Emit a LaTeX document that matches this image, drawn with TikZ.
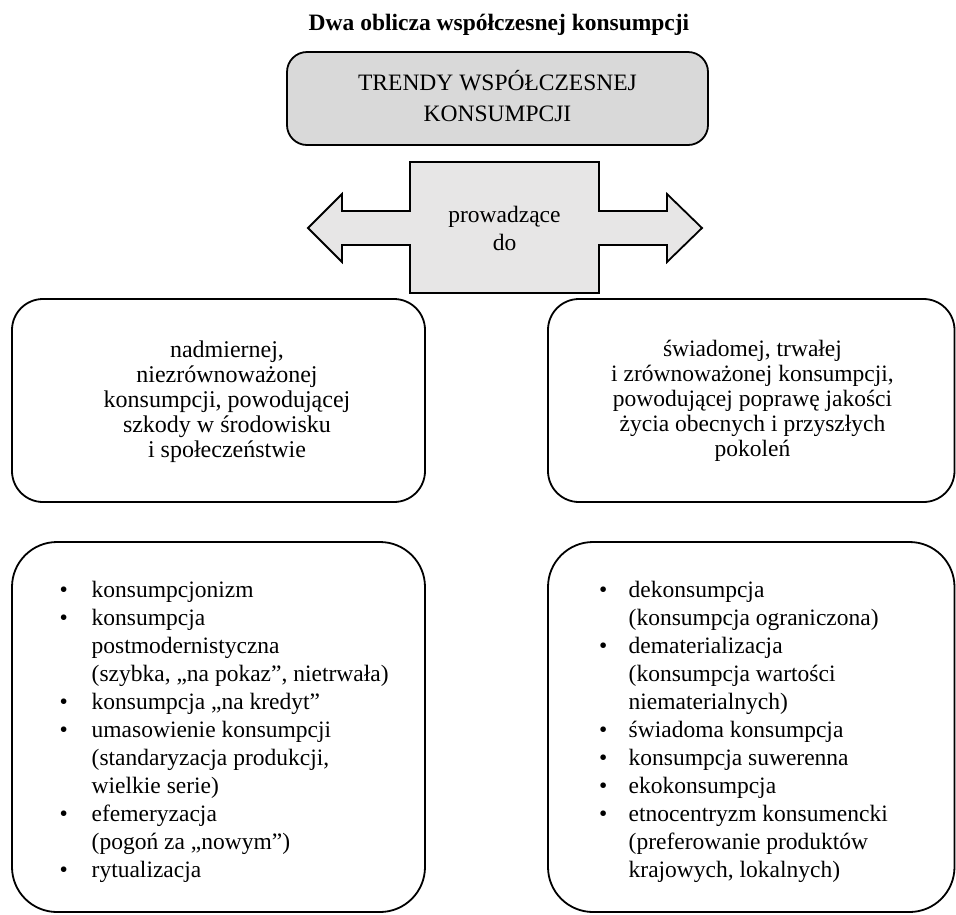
\documentclass[tikz,border=0pt]{standalone}
\usepackage{fontspec}
\setmainfont{Liberation Serif}
\definecolor{topfill}{HTML}{D9D9D9}
\definecolor{arrfill}{HTML}{E7E6E6}
\begin{document}
\begin{tikzpicture}[x=1pt,y=-1pt,
  boxshape/.style={draw, line width=1.8pt, rounded corners=#1, inner sep=0pt, outer sep=0pt},
  txt/.style={inner sep=0pt, anchor=base, font=\fontsize{23.5}{#1}\selectfont},
  listtxt/.style={inner sep=0pt, anchor=base west, font=\fontsize{23.5}{28}\selectfont},
  arrowshape/.style={draw, line width=1.8pt, fill=arrfill, line join=miter}]
\useasboundingbox (0,0) rectangle (956,914);

% title
\node[inner sep=0pt, anchor=base, font=\fontsize{23.5}{28}\selectfont\bfseries] (title) at (499,30) {Dwa oblicza współczesnej konsumpcji};

% top box
\node[boxshape=20pt, fill=topfill, minimum width=421pt, minimum height=93pt] (trendy) at (497.5,98.5) {};
\node[txt=31] (trendyt) at (trendy.center |- 0,90) {\begin{tabular}[t]{@{}c@{}}TRENDY WSPÓŁCZESNEJ\\KONSUMPCJI\end{tabular}};

% double arrow callout
\coordinate (ltip) at (308,228);
\coordinate (rtip) at (702,228);
\draw[arrowshape] (ltip) -- (342,194) -- (342,211) -- (410,211) -- (410,162) -- (599,162) -- (599,211) -- (667,211) -- (667,194) -- (rtip) -- (667,262) -- (667,245) -- (599,245) -- (599,293) -- (410,293) -- (410,245) -- (342,245) -- (342,262) -- cycle;
\node[txt=28] (prow) at (504.5,222) {\begin{tabular}[t]{@{}c@{}}prowadzące\\do\end{tabular}};

% middle boxes
\node[boxshape=31pt, minimum width=413pt, minimum height=203pt] (midl) at (218.5,400.5) {};
\node[boxshape=31pt, minimum width=406.5pt, minimum height=203pt] (midr) at (751.25,400.5) {};
\node[inner sep=0pt, anchor=base, font=\fontsize{24}{25.2}\selectfont] (midlt) at (227,357) {\begin{tabular}[t]{@{}c@{}}nadmiernej,\\niezrównoważonej\\konsumpcji, powodującej\\szkody w środowisku\\i społeczeństwie\end{tabular}};
\node[txt=25.2] (midrt) at (752.5,356) {\begin{tabular}[t]{@{}c@{}}świadomej, trwałej\\i zrównoważonej konsumpcji,\\powodującej poprawę jakości\\życia obecnych i przyszłych\\pokoleń\end{tabular}};

% bottom boxes
\node[boxshape=45pt, minimum width=413pt, minimum height=370pt] (botl) at (218.5,727) {};
\node[boxshape=45pt, minimum width=406.5pt, minimum height=370pt] (botr) at (751.25,727) {};
\node[listtxt] (botlt) at (59.5,597) {\begin{tabular}[t]{@{}p{32pt}@{}l@{}}
• & konsumpcjonizm\\
• & konsumpcja\\
  & postmodernistyczna\\
  & (szybka, „na pokaz”, nietrwała)\\
• & konsumpcja „na kredyt”\\
• & umasowienie konsumpcji\\
  & (standaryzacja produkcji,\\
  & wielkie serie)\\
• & efemeryzacja\\
  & (pogoń za „nowym”)\\
• & rytualizacja
\end{tabular}};
\node[listtxt] (botrt) at (599,597) {\begin{tabular}[t]{@{}p{29.5pt}@{}l@{}}
• & dekonsumpcja\\
  & (konsumpcja ograniczona)\\
• & dematerializacja\\
  & (konsumpcja wartości\\
  & niematerialnych)\\
• & świadoma konsumpcja\\
• & konsumpcja suwerenna\\
• & ekokonsumpcja\\
• & etnocentryzm konsumencki\\
  & (preferowanie produktów\\
  & krajowych, lokalnych)
\end{tabular}};
\end{tikzpicture}
\end{document}
